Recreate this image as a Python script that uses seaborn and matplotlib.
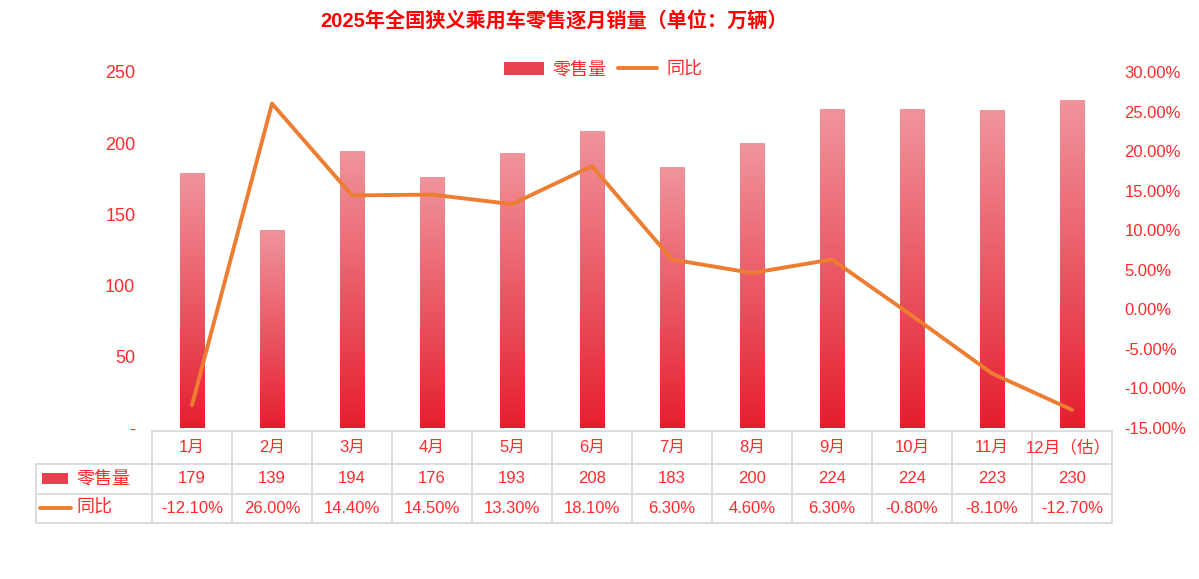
import numpy as np
import pandas as pd
import matplotlib
matplotlib.use("Agg")
import matplotlib.pyplot as plt
import matplotlib.transforms as mtransforms
from matplotlib.colors import LinearSegmentedColormap
from matplotlib.patches import Rectangle
from matplotlib.lines import Line2D
import seaborn as sns

months = ["1月", "2月", "3月", "4月", "5月", "6月", "7月", "8月", "9月", "10月", "11月", "12月（估）"]
sales = [179, 139, 194, 176, 193, 208, 183, 200, 224, 224, 223, 230]
yoy = [-12.1, 26.0, 14.4, 14.5, 13.3, 18.1, 6.3, 4.6, 6.3, -0.8, -8.1, -12.7]

RED = "#ff2a2a"
BAR_TOP = "#f0949c"
BAR_BOTTOM = "#e41f2f"
LINE_COLOR = "#ed7d31"
GRID_GREY = "#dcdcdc"

sns.set_theme(style="white")
plt.rcParams["font.family"] = ["Liberation Sans", "Noto Sans CJK SC", "DejaVu Sans"]
plt.rcParams["axes.unicode_minus"] = False

df = pd.DataFrame({"month": months, "sales": sales, "yoy": [v / 100 for v in yoy]})

fig = plt.figure(figsize=(11.99, 5.79), dpi=100)
ax = fig.add_axes([152 / 1199, 1 - 428 / 579, 960 / 1199, 356 / 579])

sns.barplot(data=df, x="month", y="sales", ax=ax, width=0.31, color=BAR_BOTTOM, saturation=1)

# vertical gradient on every bar
grad_cmap = LinearSegmentedColormap.from_list("bar", [BAR_BOTTOM, BAR_TOP])
grad = np.linspace(0, 1, 256).reshape(-1, 1)
for p in list(ax.patches):
    x0, w, h = p.get_x(), p.get_width(), p.get_height()
    ax.imshow(grad, cmap=grad_cmap, origin="lower", aspect="auto",
              extent=[x0, x0 + w, 0, h], zorder=2)
    p.set_visible(False)

ax.set_xlim(-0.5, len(months) - 0.5)
ax.set_ylim(0, 250)
ax.set_yticks(range(0, 251, 50))
ax.set_yticklabels(["-" if v == 0 else str(v) for v in range(0, 251, 50)])
ax.tick_params(axis="y", colors=RED, labelsize=13, length=0, pad=12)
ax.set_xticks([])
ax.set_xlabel("")
ax.set_ylabel("")
for s in ax.spines.values():
    s.set_visible(False)

ax2 = ax.twinx()
sns.lineplot(data=df, x="month", y="yoy", ax=ax2, color=LINE_COLOR, linewidth=2.8, sort=False)
ax2.set_ylim(-0.15, 0.30)
ticks = np.arange(-15, 31, 5)
ax2.set_yticks(ticks / 100)
ax2.set_yticklabels([f"{t:.2f}%" for t in ticks])
ax2.tick_params(axis="y", colors=RED, labelsize=12, length=0, pad=9)
ax2.set_ylabel("")
ax2.set_xlabel("")
ax2.set_xticks([])
for s in ax2.spines.values():
    s.set_visible(False)
ax.set_xlim(-0.5, len(months) - 0.5)

# data table under the plot
tr = mtransforms.blended_transform_factory(ax.transData, ax.transAxes)
n = len(months)
left_x = -1.95
rows_y = [-0.0084, -0.101, -0.185, -0.267]
lkw = dict(color=GRID_GREY, lw=1.4, transform=tr, clip_on=False, zorder=1)
ax.add_line(Line2D([-0.5, n - 0.5], [rows_y[0]] * 2, **lkw))
for y in rows_y[1:]:
    ax.add_line(Line2D([left_x, n - 0.5], [y] * 2, **lkw))
for i in range(n + 1):
    ax.add_line(Line2D([i - 0.5] * 2, [rows_y[0], rows_y[-1]], **lkw))
ax.add_line(Line2D([left_x] * 2, [rows_y[1], rows_y[-1]], **lkw))

for i, m in enumerate(months):
    xoff = -0.05 if i == n - 1 else 0
    ax.text(i + xoff, -0.055, m, transform=tr, ha="center", va="center", color=RED, fontsize=12)
    ax.text(i, -0.143, str(sales[i]), transform=tr, ha="center", va="center", color=RED, fontsize=12)
    ax.text(i, -0.225, f"{yoy[i]:.2f}%", transform=tr, ha="center", va="center", color=RED, fontsize=12)

ax.add_patch(Rectangle((-1.875, -0.157), 0.33, 0.031, transform=tr, clip_on=False,
                       facecolor="#e8404e", edgecolor="none"))
ax.add_line(Line2D([-1.9, -1.51], [-0.225, -0.225], color=LINE_COLOR, lw=2.8,
                   transform=tr, clip_on=False))
ax.text(-1.45, -0.143, "零售量", transform=tr, ha="left", va="center", color=RED, fontsize=13)
ax.text(-1.45, -0.225, "同比", transform=tr, ha="left", va="center", color=RED, fontsize=13)

fig.text(0.462, 0.963, "2025年全国狭义乘用车零售逐月销量（单位：万辆）", ha="center", va="center",
         color="#ff0000", fontsize=14.5, fontweight="bold")

handles = [Rectangle((0, 0), 1, 1, facecolor="#e8404e", edgecolor="none"),
           Line2D([0], [0], color=LINE_COLOR, lw=2.8)]
fig.legend(handles, ["零售量", "同比"], loc="center", bbox_to_anchor=(0.503, 0.879), ncol=2,
           frameon=False, fontsize=13, labelcolor=RED, handlelength=2.2, handleheight=0.7,
           handletextpad=0.5, columnspacing=0.6)

fig.savefig("out.png", dpi=100)
